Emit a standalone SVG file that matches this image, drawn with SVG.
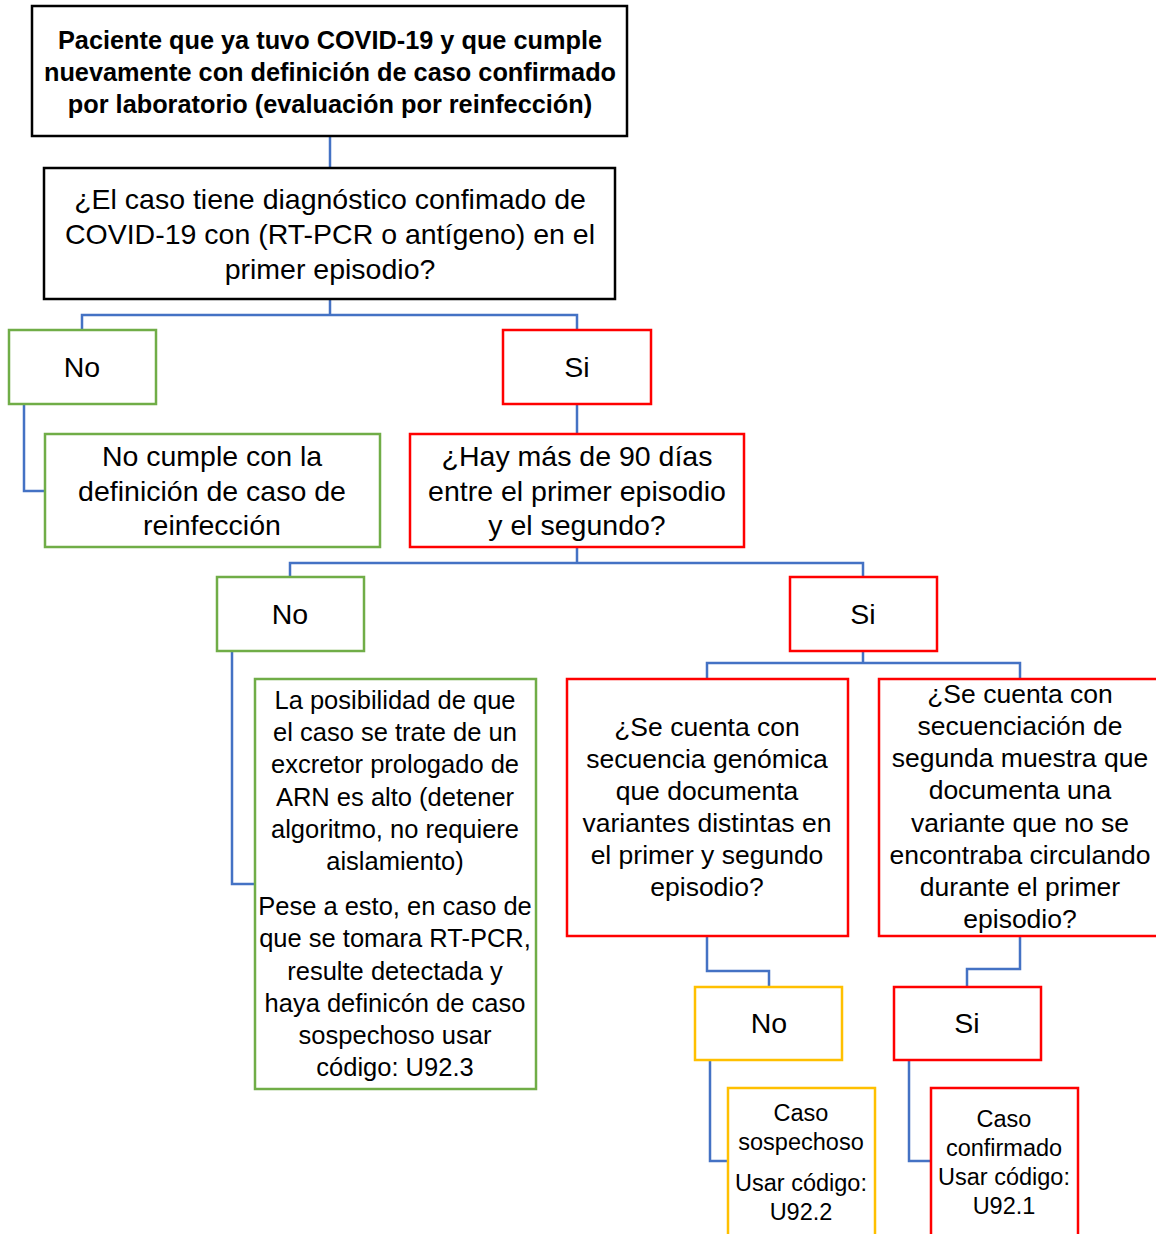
<svg xmlns="http://www.w3.org/2000/svg" width="1156" height="1234" viewBox="0 0 1156 1234">
<style>
.box{fill:#fff;stroke-width:2.5}
.k{stroke:#000}
.g{stroke:#70AD47}
.r{stroke:#FF0000}
.y{stroke:#FFC000}
.c{fill:none;stroke:#4472C4;stroke-width:2.5}
text{font-family:"Liberation Sans",Arial,sans-serif;text-anchor:middle;fill:#000}
.b{font-weight:bold;font-size:25.3px}
.t1{font-size:28.5px}
.t2{font-size:25.5px}
.t4{font-size:26.5px}
.t3{font-size:23.5px}
</style>
<rect width="1156" height="1234" fill="#fff"/>
<g id="connectors">
<path class="c" d="M330,136V168"/>
<path class="c" d="M330,299V315M82,330V315H577V330"/>
<path class="c" d="M24,404V491H45"/>
<path class="c" d="M577,404V434"/>
<path class="c" d="M577,547V563M290,577V563H863V577"/>
<path class="c" d="M232,651V884H255"/>
<path class="c" d="M863,651V663M707,679V663H1020V679"/>
<path class="c" d="M707,936V971H769V987"/>
<path class="c" d="M1020,936V969H967V987"/>
<path class="c" d="M710,1060V1161H728"/>
<path class="c" d="M909,1060V1161H931"/>
</g>
<g id="n1">
<rect class="box k" x="32" y="6" width="595" height="130"/>
<text class="b"><tspan x="330" y="49">Paciente que ya tuvo COVID-19 y que cumple</tspan><tspan x="330" y="81">nuevamente con definición de caso confirmado</tspan><tspan x="330" y="113">por laboratorio (evaluación por reinfección)</tspan></text>
</g>
<g id="n2">
<rect class="box k" x="44" y="168" width="571" height="131"/>
<text class="t1"><tspan x="330" y="209">¿El caso tiene diagnóstico confimado de</tspan><tspan x="330" y="244">COVID-19 con (RT-PCR o antígeno) en el</tspan><tspan x="330" y="279">primer episodio?</tspan></text>
</g>
<g id="n3">
<rect class="box g" x="9" y="330" width="147" height="74"/>
<text class="t1" x="82" y="377">No</text>
</g>
<g id="n4">
<rect class="box r" x="503" y="330" width="148" height="74"/>
<text class="t1" x="577" y="377">Si</text>
</g>
<g id="n5">
<rect class="box g" x="45" y="434" width="335" height="113"/>
<text class="t1"><tspan x="212" y="466">No cumple con la</tspan><tspan x="212" y="501">definición de caso de</tspan><tspan x="212" y="535">reinfección</tspan></text>
</g>
<g id="n6">
<rect class="box r" x="410" y="434" width="334" height="113"/>
<text class="t1"><tspan x="577" y="466">¿Hay más de 90 días</tspan><tspan x="577" y="501">entre el primer episodio</tspan><tspan x="577" y="535">y el segundo?</tspan></text>
</g>
<g id="n7">
<rect class="box g" x="217" y="577" width="147" height="74"/>
<text class="t1" x="290" y="624">No</text>
</g>
<g id="n8">
<rect class="box r" x="790" y="577" width="147" height="74"/>
<text class="t1" x="863" y="624">Si</text>
</g>
<g id="n9">
<rect class="box g" x="255" y="679" width="281" height="410"/>
<text class="t2"><tspan x="395" y="709">La posibilidad de que</tspan><tspan x="395" y="741">el caso se trate de un</tspan><tspan x="395" y="773">excretor prologado de</tspan><tspan x="395" y="806">ARN es alto (detener</tspan><tspan x="395" y="838">algoritmo, no requiere</tspan><tspan x="395" y="870">aislamiento)</tspan><tspan x="395" y="915">Pese a esto, en caso de</tspan><tspan x="395" y="947">que se tomara RT-PCR,</tspan><tspan x="395" y="980">resulte detectada y</tspan><tspan x="395" y="1012">haya definicón de caso</tspan><tspan x="395" y="1044">sospechoso usar</tspan><tspan x="395" y="1076">código: U92.3</tspan></text>
</g>
<g id="n10">
<rect class="box r" x="567" y="679" width="281" height="257"/>
<text class="t4"><tspan x="707" y="736">¿Se cuenta con</tspan><tspan x="707" y="768">secuencia genómica</tspan><tspan x="707" y="800">que documenta</tspan><tspan x="707" y="832">variantes distintas en</tspan><tspan x="707" y="864">el primer y segundo</tspan><tspan x="707" y="896">episodio?</tspan></text>
</g>
<g id="n11">
<rect class="box r" x="879" y="679" width="290" height="257"/>
<text class="t4"><tspan x="1020" y="703">¿Se cuenta con</tspan><tspan x="1020" y="735">secuenciación de</tspan><tspan x="1020" y="767">segunda muestra que</tspan><tspan x="1020" y="799">documenta una</tspan><tspan x="1020" y="832">variante que no se</tspan><tspan x="1020" y="864">encontraba circulando</tspan><tspan x="1020" y="896">durante el primer</tspan><tspan x="1020" y="928">episodio?</tspan></text>
</g>
<g id="n12">
<rect class="box y" x="695" y="987" width="147" height="73"/>
<text class="t1" x="769" y="1033">No</text>
</g>
<g id="n13">
<rect class="box r" x="894" y="987" width="147" height="73"/>
<text class="t1" x="967" y="1033">Si</text>
</g>
<g id="n14">
<rect class="box y" x="728" y="1088" width="147" height="160"/>
<text class="t3"><tspan x="801" y="1121">Caso</tspan><tspan x="801" y="1150">sospechoso</tspan><tspan x="801" y="1191">Usar código:</tspan><tspan x="801" y="1220">U92.2</tspan></text>
</g>
<g id="n15">
<rect class="box r" x="931" y="1088" width="147" height="160"/>
<text class="t3"><tspan x="1004" y="1127">Caso</tspan><tspan x="1004" y="1156">confirmado</tspan><tspan x="1004" y="1185">Usar código:</tspan><tspan x="1004" y="1214">U92.1</tspan></text>
</g>
</svg>
